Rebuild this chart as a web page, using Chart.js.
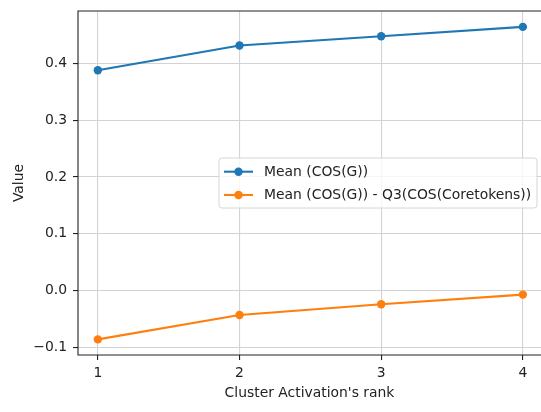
<!DOCTYPE html>
<html>
<head>
<meta charset="utf-8">
<script src="https://cdn.jsdelivr.net/npm/chart.js@4/dist/chart.umd.min.js"></script>
<style>
  html, body { margin: 0; padding: 0; background: #fff; overflow: hidden; }
  #wrap { width: 541px; height: 412px; }
</style>
</head>
<body>
<div id="wrap"><canvas id="myChart" width="541" height="412"></canvas></div>
<script>
// values
var ranks = [1, 2, 3, 4];
var meanCos = [0.388, 0.4316, 0.448, 0.4645];
var meanMinusQ3 = [-0.0865, -0.0434, -0.0246, -0.0076];
var yTicks = [-0.1, 0.0, 0.1, 0.2, 0.3, 0.4];
var xTicks = [1, 2, 3, 4];
var seriesNames = ['Mean (COS(G))', 'Mean (COS(G)) - Q3(COS(Coretokens))'];

var FONT = 'DejaVu Sans';
var FS = 13.9;

function toPoints(xs, ys) {
    return xs.map(function (x, i) { return { x: x, y: ys[i] }; });
}

// spines + legend drawn inside the plot area, matplotlib style
// (the right spine is cut off in the original picture, so it is not drawn)
var framePlugin = {
    id: 'frame',
    afterDatasetsDraw: function (chart) {
        var ctx = chart.ctx;
        var a = chart.chartArea;
        ctx.save();
        ctx.strokeStyle = '#222';
        ctx.lineWidth = 1.1;
        ctx.beginPath();
        ctx.moveTo(a.right + 2, a.top);
        ctx.lineTo(a.left, a.top);
        ctx.lineTo(a.left, a.bottom);
        ctx.lineTo(a.right + 2, a.bottom);
        ctx.stroke();

        // legend box
        var bx = 219, by = 158, bw = 318, bh = 50, r = 3;
        ctx.beginPath();
        ctx.moveTo(bx + r, by);
        ctx.arcTo(bx + bw, by, bx + bw, by + bh, r);
        ctx.arcTo(bx + bw, by + bh, bx, by + bh, r);
        ctx.arcTo(bx, by + bh, bx, by, r);
        ctx.arcTo(bx, by, bx + bw, by, r);
        ctx.closePath();
        ctx.fillStyle = 'rgba(255,255,255,0.8)';
        ctx.fill();
        ctx.strokeStyle = '#d6d6d6';
        ctx.lineWidth = 1;
        ctx.stroke();

        ctx.font = FS + 'px "' + FONT + '"';
        ctx.textBaseline = 'middle';
        ctx.textAlign = 'left';
        chart.data.datasets.forEach(function (ds, i) {
            var y = 171.7 + i * 23.3;
            ctx.strokeStyle = ds.borderColor;
            ctx.lineWidth = 2.1;
            ctx.beginPath();
            ctx.moveTo(224, y);
            ctx.lineTo(253, y);
            ctx.stroke();
            ctx.fillStyle = ds.borderColor;
            ctx.beginPath();
            ctx.arc(238.5, y, 4.2, 0, Math.PI * 2);
            ctx.fill();
            ctx.fillStyle = '#222';
            ctx.fillText(ds.label, 264, y + 0.5);
        });
        ctx.restore();
    }
};

var ctx = document.getElementById('myChart').getContext('2d');
var myChart = new Chart(ctx, {
    type: 'line',
    data: {
        datasets: [{
            label: seriesNames[0],
            data: toPoints(ranks, meanCos),
            borderColor: '#1f77b4',
            backgroundColor: '#1f77b4',
            borderWidth: 2.1,
            pointRadius: 4.2,
            pointHoverRadius: 4.2,
            pointBorderWidth: 0,
            tension: 0
        }, {
            label: seriesNames[1],
            data: toPoints(ranks, meanMinusQ3),
            borderColor: '#ff7f0e',
            backgroundColor: '#ff7f0e',
            borderWidth: 2.1,
            pointRadius: 4.2,
            pointHoverRadius: 4.2,
            pointBorderWidth: 0,
            tension: 0
        }]
    },
    options: {
        responsive: false,
        animation: false,
        events: [],
        layout: { autoPadding: false, padding: { top: 11, right: 0, left: 0, bottom: 0 } },
        plugins: {
            legend: { display: false },
            tooltip: { enabled: false }
        },
        scales: {
            x: {
                type: 'linear',
                // visible window: the picture is cropped just before the right spine
                min: 0.86,
                max: 4.128,
                afterBuildTicks: function (scale) {
                    scale.ticks = xTicks.map(function (v) { return { value: v }; });
                },
                afterFit: function (scale) {
                    scale.height = 57;
                    scale.paddingLeft = 0;
                    scale.paddingRight = 0;
                },
                grid: { color: '#d3d3d3', lineWidth: 1.1, tickColor: '#222', tickLength: 5 },
                border: { display: false },
                ticks: {
                    color: '#222',
                    padding: 5,
                    maxRotation: 0,
                    font: { family: FONT, size: FS },
                    callback: function (v) { return String(v); }
                },
                title: {
                    display: true,
                    text: "Cluster Activation's rank",
                    color: '#222',
                    font: { family: FONT, size: FS },
                    padding: { top: 0, bottom: 10.7 }
                }
            },
            y: {
                min: -0.114,
                max: 0.4925,
                afterBuildTicks: function (scale) {
                    scale.ticks = yTicks.map(function (v) { return { value: v }; });
                },
                afterFit: function (scale) {
                    scale.width = 78;
                    scale.paddingTop = 0;
                    scale.paddingBottom = 0;
                },
                grid: { color: '#d3d3d3', lineWidth: 1.1, tickColor: '#222', tickLength: 5 },
                border: { display: false },
                ticks: {
                    color: '#222',
                    padding: 6,
                    font: { family: FONT, size: FS },
                    callback: function (v) { return v.toFixed(1).replace('-', '\u2212'); }
                },
                title: {
                    display: true,
                    text: 'Value',
                    color: '#222',
                    font: { family: FONT, size: FS },
                    padding: { top: 11, bottom: 0 }
                }
            }
        }
    },
    plugins: [framePlugin]
});
</script>
</body>
</html>
